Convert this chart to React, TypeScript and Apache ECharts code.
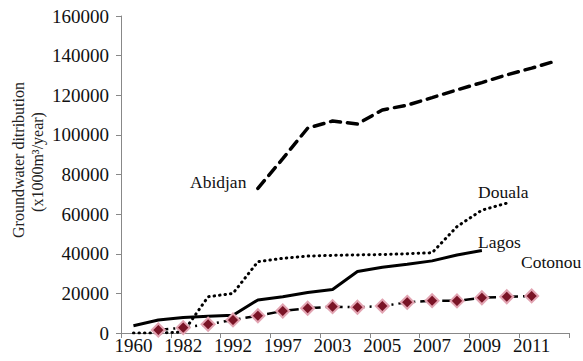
import React, { useEffect, useRef } from "react";
import * as echarts from "echarts";

const years = ["1960", "1975", "1982", "1987", "1992", "1995", "1997", "2000", "2003", "2004", "2005", "2006", "2007", "2008", "2009", "2010", "2011", "2012"];
const abidjan = [null, null, null, null, null, 73000, 88000, 103400, 107000, 105500, 112600, 115000, 118800, 122700, 126400, 130300, 133700, 137400];
const douala = [0, 0, 500, 18300, 20000, 36000, 37700, 38800, 39200, 39400, 39600, 40000, 40500, 53700, 62000, 65500, null, null];
const lagos = [3700, 6600, 7800, 8500, 9000, 16700, 18300, 20400, 22000, 31000, 33200, 34700, 36400, 39400, 41600, null, null, null];
const cotonou = [null, 1500, 2700, 4400, 6600, 8700, 11100, 12500, 13300, 13000, 13600, 15500, 16300, 16200, 17800, 18300, 18700, null];
const yTicks = { min: 0, max: 160000, interval: 20000 };

const FONT = "'Liberation Serif', 'Times New Roman', serif";

export default function App() {
  const ref = useRef<HTMLDivElement>(null);
  useEffect(() => {
    const chart = echarts.init(ref.current!, null, { renderer: "svg" });
    chart.setOption({
      animation: false,
      backgroundColor: "#ffffff",
      grid: { left: 121, right: 14, top: 16, bottom: 28, containLabel: false },
      xAxis: {
        type: "category",
        data: years,
        boundaryGap: true,
        axisLine: { lineStyle: { color: "#888888", width: 1 } },
        axisTick: { show: true, interval: 1, length: 5, lineStyle: { color: "#888888" } },
        axisLabel: { interval: 1, color: "#111111", fontFamily: FONT, fontSize: 19, margin: 3 },
        splitLine: { show: false },
      },
      yAxis: {
        type: "value",
        min: yTicks.min,
        max: yTicks.max,
        interval: yTicks.interval,
        axisLine: { show: true, lineStyle: { color: "#888888", width: 1 } },
        axisTick: { show: true, length: 5, lineStyle: { color: "#888888" } },
        axisLabel: { color: "#111111", fontFamily: FONT, fontSize: 19, margin: 12, formatter: (v: number) => String(v) },
        splitLine: { show: false },
      },
      graphic: [
        {
          type: "text",
          x: 18,
          y: 160,
          rotation: Math.PI / 2,
          style: { text: "Groundwater ditribution", fontSize: 16, fontFamily: FONT, fill: "#222", align: "center", verticalAlign: "middle" },
        },
        {
          type: "text",
          x: 37,
          y: 162,
          rotation: Math.PI / 2,
          style: { text: "(x1000m³/year)", fontSize: 16, fontFamily: FONT, fill: "#222", align: "center", verticalAlign: "middle" },
        },
        { type: "text", x: 190, y: 182, style: { text: "Abidjan", fontSize: 17.5, fontFamily: FONT, fill: "#111", verticalAlign: "middle" } },
        { type: "text", x: 478, y: 192, style: { text: "Douala", fontSize: 17.5, fontFamily: FONT, fill: "#111", verticalAlign: "middle" } },
        { type: "text", x: 478, y: 242, style: { text: "Lagos", fontSize: 17.5, fontFamily: FONT, fill: "#111", verticalAlign: "middle" } },
        { type: "text", x: 521, y: 262, style: { text: "Cotonou", fontSize: 17.5, fontFamily: FONT, fill: "#111", verticalAlign: "middle" } },
      ],
      series: [
        {
          name: "Abidjan",
          type: "line",
          data: abidjan,
          showSymbol: false,
          symbol: "none",
          lineStyle: { color: "#000", width: 3.5, type: [10, 7], cap: "round" },
        },
        {
          name: "Douala",
          type: "line",
          data: douala,
          showSymbol: false,
          symbol: "none",
          lineStyle: { color: "#000", width: 3, type: [0.5, 5], cap: "round" },
        },
        {
          name: "Lagos",
          type: "line",
          data: lagos,
          showSymbol: false,
          symbol: "none",
          lineStyle: { color: "#000", width: 3, type: "solid" },
        },
        {
          name: "Cotonou",
          type: "line",
          data: cotonou,
          symbol: "diamond",
          symbolSize: 13,
          itemStyle: { color: "#7a1426", borderColor: "#e2a4b2", borderWidth: 2 },
          lineStyle: { color: "#000", width: 2.5, type: [10, 5, 2, 5] },
        },
      ],
    });
    return () => chart.dispose();
  }, []);
  return <div ref={ref} style={{ width: 583, height: 361, position: "absolute", left: 0, top: 0 }} />;
}
